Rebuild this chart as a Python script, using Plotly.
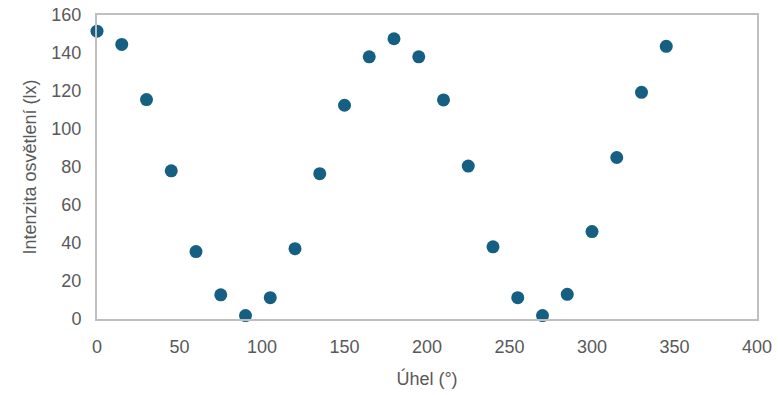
import plotly.graph_objects as go

angles = [0, 15, 30, 45, 60, 75, 90, 105, 120, 135, 150, 165, 180, 195, 210, 225, 240, 255, 270, 285, 300, 315, 330, 345]
intensity = [151.5, 144.5, 115.5, 78, 35.5, 12.7, 1.8, 11.2, 37, 76.5, 112.5, 138, 147.5, 138, 115.3, 80.5, 38, 11.2, 1.8, 13, 46, 85, 119.3, 143.5]

fig = go.Figure(go.Scatter(
    x=angles, y=intensity, mode="markers",
    marker=dict(color="#156082", size=13),
    cliponaxis=False,
))

axis_common = dict(
    showgrid=False, zeroline=False, showline=True, linecolor="#BFBFBF", linewidth=2,
    mirror=True, ticks="", ticklabelstandoff=10, automargin=False,
    tickfont=dict(family="Liberation Sans, Arial", size=18, color="#595959"),
    title_font=dict(family="Liberation Sans, Arial", size=18, color="#595959"),
)

fig.update_layout(
    width=778, height=395,
    margin=dict(l=97, r=21, t=15, b=76),
    paper_bgcolor="white", plot_bgcolor="white",
    showlegend=False,
    xaxis=dict(range=[0, 400], dtick=50, title=dict(text="Úhel (°)", standoff=17), **axis_common),
    yaxis=dict(range=[0, 160], dtick=20, title=dict(text="Intenzita osvětlení (lx)", standoff=10), **axis_common),
)

fig.write_html("out.html")
